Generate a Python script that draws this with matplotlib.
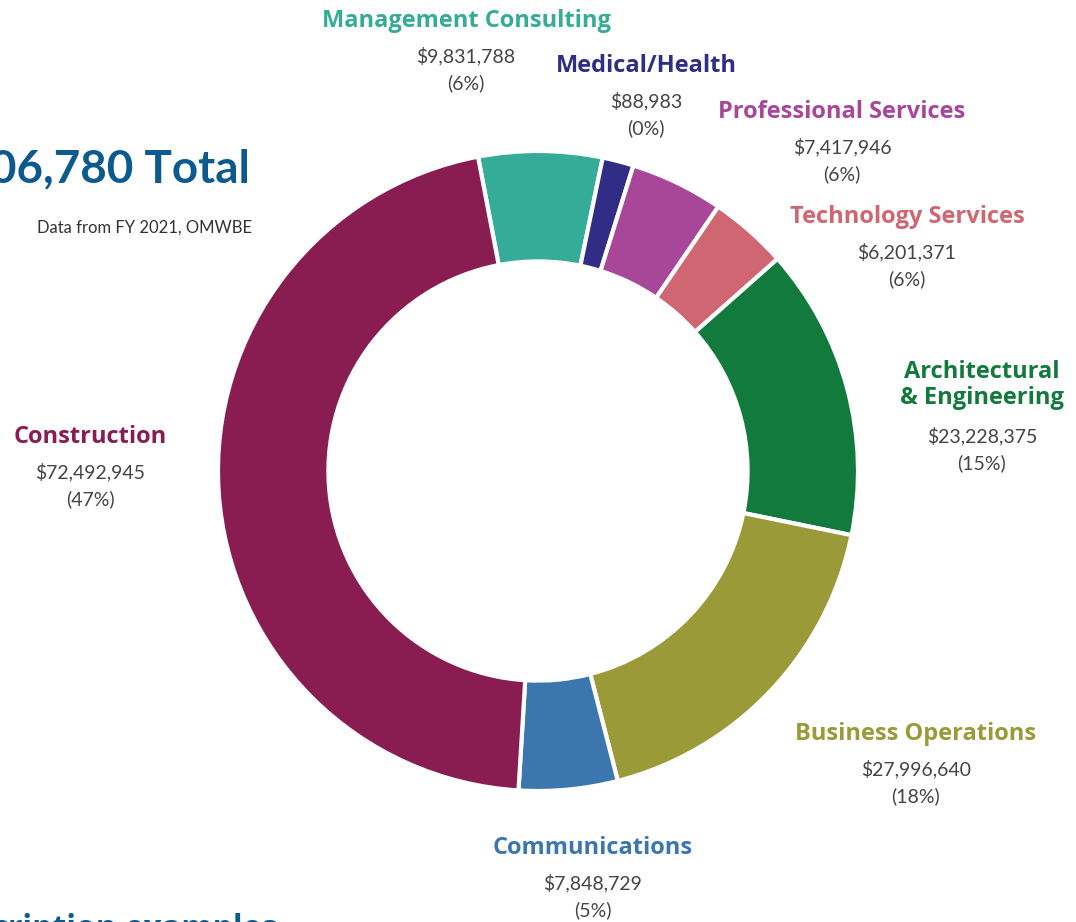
import matplotlib.pyplot as plt
import numpy as np

# Contract dollars by category, FY 2021 (clockwise from top)
categories = ['Management Consulting', 'Medical/Health', 'Professional Services',
              'Technology Services', 'Architectural\n& Engineering', 'Business Operations',
              'Communications', 'Construction']
amounts = [9831788, 88983, 7417946, 6201371, 23228375, 27996640, 7848729, 72492945]
percents = ['6%', '0%', '6%', '6%', '15%', '18%', '5%', '47%']
colors = ['#35AC97', '#312C85', '#A8479A', '#CF6672', '#127A3D', '#9A9A38', '#3C76AE', '#891D52']

# label anchor (pixel centre of the category name)
label_xy = [(466, 21), (646, 66), (842, 112), (907, 217), (982, 385),
            (916, 734), (593, 848), (90, 437)]

W, H = 1076, 922
fig = plt.figure(figsize=(W / 100, H / 100), dpi=100)
plt.rcParams['font.family'] = ['Lato', 'DejaVu Sans']

# tiny slices get a minimum visible size, like the original
total = sum(amounts)
sizes = np.maximum(np.array(amounts, dtype=float), 0.016 * total)

cx, cy, r = 538, 471, 320
ax = fig.add_axes([(cx - r) / W, (H - cy - r) / H, 2 * r / W, 2 * r / H])
ax.pie(sizes, colors=colors, startangle=100.8, counterclock=False, radius=1,
       wedgeprops=dict(width=0.345, edgecolor='white', linewidth=3))
ax.set_xlim(-1, 1)
ax.set_ylim(-1, 1)
ax.axis('off')

def fx(x):
    return x / W

def fy(y):
    return 1 - y / H

for name, amt, pct, col, (x, y) in zip(categories, amounts, percents, colors, label_xy):
    n_lines = name.count('\n') + 1
    fig.text(fx(x), fy(y), name, color=col, fontsize=17, fontweight='bold',
             family=['Open Sans', 'DejaVu Sans'],
             ha='center', va='center', linespacing=1.15)
    yv = y + 35 + (n_lines - 1) * 16
    fig.text(fx(x), fy(yv), '${:,}'.format(amt), color='#444444', fontsize=14,
             ha='center', va='center')
    fig.text(fx(x), fy(yv + 27), '(' + pct + ')', color='#444444', fontsize=14,
             ha='center', va='center')

fig.text(fx(250), fy(168), '${:,} Total'.format(155106780), color='#0D5A8E',
         fontsize=33, fontweight='bold', ha='right', va='center')
fig.text(fx(252), fy(228), 'Data from FY 2021, OMWBE', color='#333333',
         fontsize=12, ha='right', va='center')
fig.text(fx(277), fy(929), 'Description examples', color='#0D5A8E',
         fontsize=23, fontweight='bold', family=['Open Sans', 'DejaVu Sans'],
         ha='right', va='center')

fig.savefig('out.png', dpi=100)
